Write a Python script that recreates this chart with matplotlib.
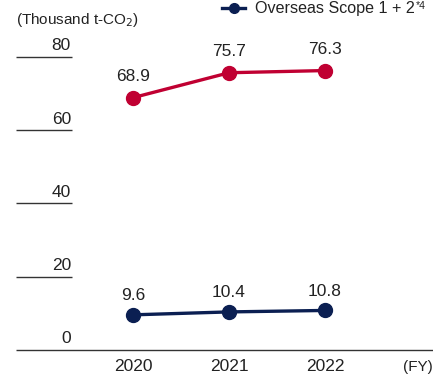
import matplotlib.pyplot as plt

plt.rcParams['font.family'] = ['Liberation Sans', 'DejaVu Sans']

years = [2020, 2021, 2022]
japan_scope12 = [68.9, 75.7, 76.3]
overseas_scope12 = [9.6, 10.4, 10.8]
y_ticks = [0, 20, 40, 60, 80]

red = '#C00032'
navy = '#0B1F52'
W, H = 433, 374

fig = plt.figure(figsize=(W / 100, H / 100), dpi=100)
ax = fig.add_axes([0, 0, 1, 1])
ax.set_axis_off()

# pixel scale: 2020 at x=133, one year = 96 px; 0 at 24 px from bottom, 80 at 317
px_year = 96.0
px_unit = 293.0 / 80
ax.set_xlim(2020 - 133 / px_year, 2020 + (W - 133) / px_year)
ax.set_ylim(-24 / px_unit, (H - 24) / px_unit)

tr = ax.get_yaxis_transform()
# short tick rules at the left with labels sitting on top
for t in y_ticks:
    x1 = 1.0 if t == 0 else 72 / W
    ax.plot([16 / W, x1], [t, t], color='#333333', lw=1.0, transform=tr,
            solid_capstyle='butt')
    ax.text(71 / W, t + 1.0, str(t), transform=tr, ha='right', va='bottom',
            fontsize=12.5, color='#222222')

ax.plot(years, japan_scope12, color=red, lw=2.4, marker='o', ms=10, zorder=3)
ax.plot(years, overseas_scope12, color=navy, lw=2.4, marker='o', ms=10, zorder=3)

for x, v in zip(years, japan_scope12):
    ax.annotate(f'{v:.1f}', (x, v), xytext=(0, 10), textcoords='offset points',
                ha='center', va='bottom', fontsize=12.5, color='#222222')
for x, v in zip(years, overseas_scope12):
    ax.annotate(f'{v:.1f}', (x, v), xytext=(0, 8.5), textcoords='offset points',
                ha='center', va='bottom', fontsize=12.5, color='#222222')

for x in years:
    ax.text(x, -4.6, str(x), ha='center', va='center', fontsize=12.5,
            color='#222222')
ax.text(418 / W, -4.6, '(FY)', transform=tr, ha='center', va='center',
        fontsize=11, color='#222222')

fig.text(16 / W, 1 - 20 / H, '(Thousand t-CO$_2$)', ha='left', va='center',
         fontsize=11, color='#222222')

# legend entry at the top, drawn by hand so it fits the right edge
ly = 1 - 8 / H
fig.add_artist(plt.Line2D([222 / W, 245 / W], [ly, ly], color=navy, lw=2.4,
                          transform=fig.transFigure))
fig.add_artist(plt.Line2D([233.5 / W], [ly], color=navy, marker='o', ms=7,
                          transform=fig.transFigure))
fig.text(255 / W, 1 - 9 / H, 'Overseas Scope 1 + 2', ha='left', va='center',
         fontsize=11.6, color='#222222')
fig.text(416 / W, 1 - 1 / H, '*4', ha='left', va='top', fontsize=7.5,
         color='#222222')

fig.savefig('out.png', dpi=100)
